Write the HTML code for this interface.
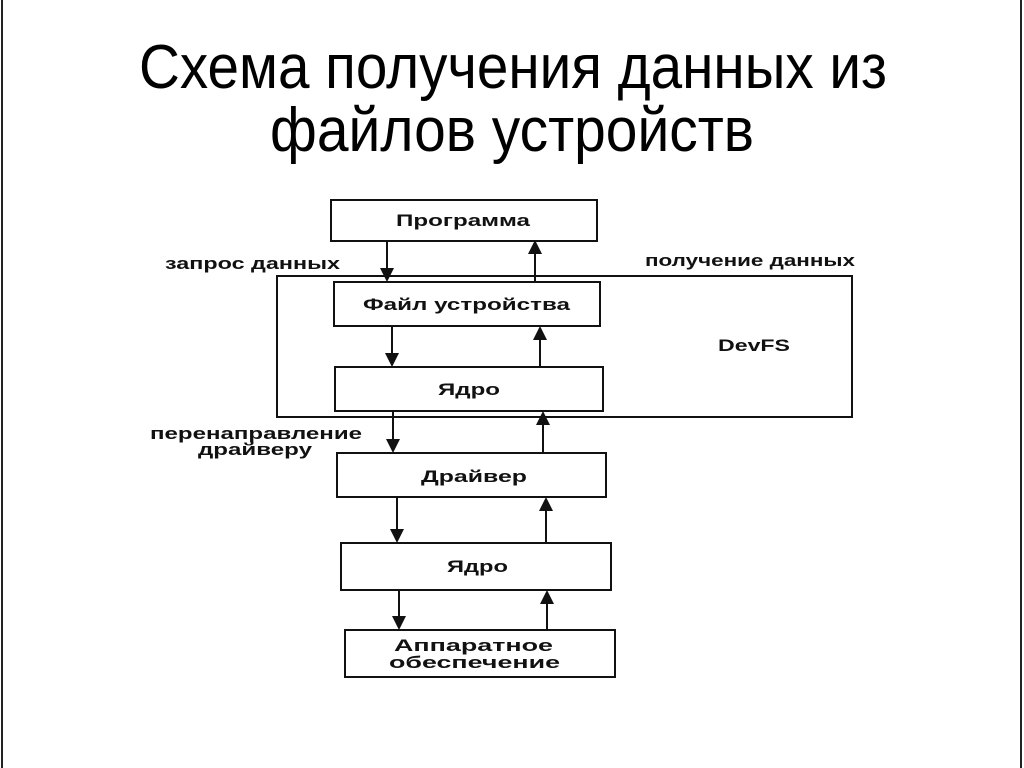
<!DOCTYPE html>
<html><head><meta charset="utf-8"><style>
html,body{margin:0;padding:0;background:#fff;}
svg{display:block;}
</style></head><body>
<svg width="1024" height="768" viewBox="0 0 1024 768" xmlns="http://www.w3.org/2000/svg" font-family="Liberation Sans, sans-serif">
<rect x="0" y="0" width="1024" height="768" fill="#fff"/>
<line x1="2" y1="0" x2="2" y2="768" stroke="#222" stroke-width="2"/>
<line x1="1021" y1="0" x2="1021" y2="768" stroke="#222" stroke-width="2"/>
<text x="513" y="88" font-size="62" text-anchor="middle" textLength="748" lengthAdjust="spacingAndGlyphs" fill="#000">Схема получения данных из</text>
<text x="512" y="151" font-size="62" text-anchor="middle" textLength="484" lengthAdjust="spacingAndGlyphs" fill="#000">файлов устройств</text>
<g stroke="#111" stroke-width="2" fill="none">
<rect x="277" y="276" width="575" height="141"/>
<rect x="331" y="200" width="266" height="41" fill="#fff"/>
<rect x="334" y="282" width="266" height="44" fill="#fff"/>
<rect x="335" y="367" width="268" height="44" fill="#fff"/>
<rect x="337" y="453" width="269" height="44" fill="#fff"/>
<rect x="341" y="543" width="270" height="47" fill="#fff"/>
<rect x="345" y="630" width="270" height="47" fill="#fff"/>
<line x1="387" y1="241" x2="387" y2="270"/>
<line x1="535" y1="252" x2="535" y2="282"/>
<line x1="392" y1="326" x2="392" y2="355"/>
<line x1="540" y1="338" x2="540" y2="367"/>
<line x1="393" y1="411" x2="393" y2="441"/>
<line x1="543" y1="423" x2="543" y2="453"/>
<line x1="397" y1="497" x2="397" y2="531"/>
<line x1="546" y1="509" x2="546" y2="543"/>
<line x1="399" y1="590" x2="399" y2="618"/>
<line x1="547" y1="602" x2="547" y2="630"/>
</g>
<g fill="#111">
<polygon points="380,268 394,268 387,282"/>
<polygon points="528,254 542,254 535,240"/>
<polygon points="385,353 399,353 392,367"/>
<polygon points="533,340 547,340 540,326"/>
<polygon points="386,439 400,439 393,453"/>
<polygon points="536,425 550,425 543,411"/>
<polygon points="390,529 404,529 397,543"/>
<polygon points="539,511 553,511 546,497"/>
<polygon points="392,616 406,616 399,630"/>
<polygon points="540,604 554,604 547,590"/>
</g>
<g font-size="17" font-weight="bold" fill="#111" lengthAdjust="spacingAndGlyphs">
<text x="396" y="226" textLength="134" lengthAdjust="spacingAndGlyphs">Программа</text>
<text x="363" y="310" textLength="207" lengthAdjust="spacingAndGlyphs">Файл устройства</text>
<text x="438" y="395" textLength="62" lengthAdjust="spacingAndGlyphs">Ядро</text>
<text x="421" y="482" textLength="106" lengthAdjust="spacingAndGlyphs">Драйвер</text>
<text x="447" y="572" textLength="61" lengthAdjust="spacingAndGlyphs">Ядро</text>
<text x="394" y="651" textLength="159" lengthAdjust="spacingAndGlyphs">Аппаратное</text>
<text x="389" y="668" textLength="171" lengthAdjust="spacingAndGlyphs">обеспечение</text>
<text x="165" y="269" textLength="175" lengthAdjust="spacingAndGlyphs">запрос данных</text>
<text x="645" y="266" textLength="210" lengthAdjust="spacingAndGlyphs">получение данных</text>
<text x="718" y="351" textLength="72" lengthAdjust="spacingAndGlyphs">DevFS</text>
<text x="150" y="439" textLength="212" lengthAdjust="spacingAndGlyphs">перенаправление</text>
<text x="198" y="455" textLength="114" lengthAdjust="spacingAndGlyphs">драйверу</text>
</g>
</svg>
</body></html>
